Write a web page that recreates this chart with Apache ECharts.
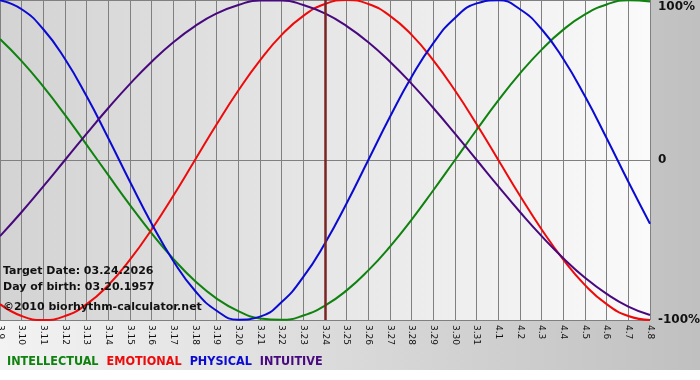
<!DOCTYPE html>
<html>
<head>
<meta charset="utf-8">
<script src="https://cdn.jsdelivr.net/npm/echarts@6/dist/echarts.min.js"></script>
<style>
html,body{margin:0;padding:0;background:#fff;}
#wrap{position:relative;width:700px;height:380px;}
#bg{position:absolute;left:0;top:0;width:700px;height:370px;background:linear-gradient(to right,#f3f3f3,#c0c0c0);}
#chart{position:absolute;left:0;top:0;width:700px;height:380px;}
</style>
</head>
<body>
<div id="wrap"><div id="bg"></div><div id="chart"></div></div>
<script>
const dates = ['3.9','3.10','3.11','3.12','3.13','3.14','3.15','3.16','3.17','3.18','3.19','3.20','3.21','3.22','3.23','3.24','3.25','3.26','3.27','3.28','3.29','3.30','3.31','4.1','4.2','4.3','4.4','4.5','4.6','4.7','4.8'];
const intellectual = [0.756,0.618,0.458,0.282,0.095,-0.095,-0.282,-0.458,-0.618,-0.756,-0.866,-0.945,-0.990,-0.999,-0.972,-0.910,-0.815,-0.690,-0.541,-0.372,-0.189,0,0.189,0.372,0.541,0.690,0.815,0.910,0.972,0.999,0.990];
const emotional = [-0.901,-0.975,-1,-0.975,-0.901,-0.782,-0.623,-0.434,-0.223,0,0.223,0.434,0.623,0.782,0.901,0.975,1,0.975,0.901,0.782,0.623,0.434,0.223,0,-0.223,-0.434,-0.623,-0.782,-0.901,-0.975,-1];
const physical = [0.998,0.942,0.817,0.631,0.398,0.136,-0.136,-0.398,-0.631,-0.817,-0.942,-0.998,-0.979,-0.888,-0.731,-0.520,-0.270,0,0.270,0.520,0.731,0.888,0.979,0.998,0.942,0.817,0.631,0.398,0.136,-0.136,-0.398];
const intuitive = [-0.476,-0.325,-0.165,0,0.165,0.325,0.476,0.614,0.736,0.837,0.916,0.969,0.997,0.997,0.969,0.916,0.837,0.736,0.614,0.476,0.325,0.165,0,-0.165,-0.325,-0.476,-0.614,-0.736,-0.837,-0.916,-0.969];
const yTickLabels = {'1':'100%','0':'0','-1':'-100%'};
const targetDay = '3.24';
const infoLines = ['Target Date: 03.24.2026','Day of birth: 03.20.1957','\u00A92010 biorhythm-calculator.net'];

const colors = {INTELLECTUAL:'#0f820f', EMOTIONAL:'#ee0a0a', PHYSICAL:'#0a0ad2', INTUITIVE:'#48087e'};

const chart = echarts.init(document.getElementById('chart'), null, {renderer:'canvas'});
function mk(name, data){
  return {
    name:name, type:'line', data:data, smooth:0.5, showSymbol:false, symbol:'none',
    lineStyle:{color:colors[name], width:2}, itemStyle:{color:colors[name]},
    emphasis:{disabled:true}, animation:false, clip:true
  };
}
const series = [mk('INTELLECTUAL', intellectual), mk('EMOTIONAL', emotional), mk('PHYSICAL', physical), mk('INTUITIVE', intuitive)];
series[0].markLine = {
  silent:true, symbol:['none','none'], label:{show:false},
  lineStyle:{color:'#7a2424', width:2.5, type:'solid'},
  data:[{xAxis:targetDay}], animation:false
};
chart.setOption({
  animation:false,
  backgroundColor:'transparent',
  textStyle:{fontFamily:'DejaVu Sans'},
  grid:{left:0, top:0, width:650, height:320, show:true, borderWidth:0, containLabel:false, outerBoundsMode:'none',
    backgroundColor:{type:'linear', x:0, y:0, x2:1, y2:0, colorStops:[{offset:0,color:'#d3d3d3'},{offset:1,color:'#fafafa'}]}},
  legend:{
    left:2, top:350, itemWidth:0, itemHeight:0, itemGap:8, icon:'none', selectedMode:false,
    textStyle:{fontFamily:'DejaVu Sans Condensed', fontWeight:'bold', fontSize:12.5, padding:[0,0,0,-5]},
    data:Object.keys(colors).map(n=>({name:n, icon:'none', textStyle:{color:colors[n]}}))
  },
  xAxis:{
    type:'category', data:dates, boundaryGap:false,
    axisLine:{show:true, lineStyle:{color:'#808080', width:1}},
    axisTick:{show:true, length:3, lineStyle:{color:'#808080'}},
    axisLabel:{rotate:-90, interval:0, fontSize:9, color:'#111', margin:5, fontFamily:'DejaVu Sans'},
    splitLine:{show:true, interval:0, lineStyle:{color:'#808080', width:1}}
  },
  yAxis:{
    type:'value', position:'right', min:-1, max:1, interval:1,
    axisLine:{show:false}, axisTick:{show:false},
    splitLine:{show:true, lineStyle:{color:'#808080', width:1}},
    axisLabel:{
      margin:8, color:'#111', fontWeight:'bold', fontSize:12, fontFamily:'DejaVu Sans',
      formatter:function(v){ const t = yTickLabels[String(v)]; return v===1 ? '{t|'+t+'}' : t; },
      rich:{t:{fontWeight:'bold', fontSize:12, color:'#111', padding:[14,0,0,0], fontFamily:'DejaVu Sans'}}
    }
  },
  graphic:infoLines.map((s,i)=>({
    type:'text', left:3, top:[266,282,302][i], z:100,
    style:{text:s, font:'bold 11px "DejaVu Sans"', fill:'#111'}
  })),
  series:series
});
</script>
</body>
</html>
